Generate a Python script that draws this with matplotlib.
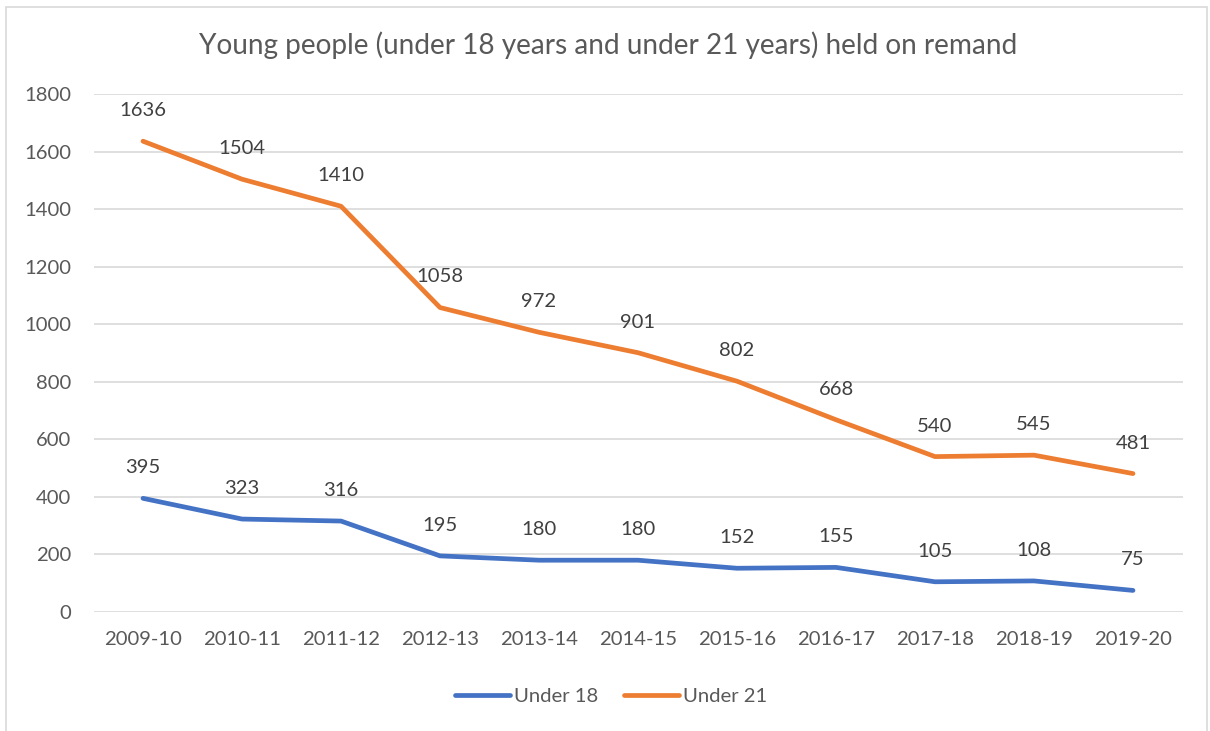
import matplotlib
matplotlib.use("Agg")
import matplotlib.pyplot as plt
from matplotlib.patches import Rectangle
from matplotlib.lines import Line2D

years = ["2009-10", "2010-11", "2011-12", "2012-13", "2013-14", "2014-15",
         "2015-16", "2016-17", "2017-18", "2018-19", "2019-20"]
under18 = [395, 323, 316, 195, 180, 180, 152, 155, 105, 108, 75]
under21 = [1636, 1504, 1410, 1058, 972, 901, 802, 668, 540, 545, 481]
yticks = [0, 200, 400, 600, 800, 1000, 1200, 1400, 1600, 1800]

plt.rcParams['font.family'] = ['Lato', 'DejaVu Sans']
W, H = 1210, 731
fig = plt.figure(figsize=(W / 100, H / 100), dpi=100)
fig.patch.set_facecolor('white')

# outer chart border
fig.add_artist(Rectangle((6 / W, -0.01), (1207 - 6) / W, (H - 7) / H + 0.01,
                         transform=fig.transFigure, fill=False,
                         edgecolor='#d9d9d9', linewidth=1.2))

ax = fig.add_axes([93.5 / W, (H - 612) / H, 1089 / W, (612 - 94) / H])
x = list(range(len(years)))
blue = '#4472c4'
orange = '#ed7d31'
text_c = '#595959'
fs = 14.6

ax.plot(x, under18, color=blue, linewidth=3.4, solid_capstyle='round', solid_joinstyle='round')
ax.plot(x, under21, color=orange, linewidth=3.4, solid_capstyle='round', solid_joinstyle='round')

for xi, v in zip(x, under18):
    ax.annotate(str(v), (xi, v), xytext=(0, 22), textcoords='offset points',
                ha='center', va='center', fontsize=fs, color='#404040')
for xi, v in zip(x, under21):
    ax.annotate(str(v), (xi, v), xytext=(0, 22), textcoords='offset points',
                ha='center', va='center', fontsize=fs, color='#404040')

ax.set_xlim(-0.5, len(years) - 0.5)
ax.set_ylim(0, 1800)
ax.set_yticks(yticks)
ax.set_xticks(x)
ax.set_xticklabels(years)
ax.grid(axis='y', color='#d9d9d9', linewidth=1.2)
ax.set_axisbelow(True)
for s in ax.spines.values():
    s.set_visible(False)
ax.tick_params(axis='both', length=0, labelsize=fs, colors=text_c)
ax.tick_params(axis='y', pad=16)
ax.tick_params(axis='x', pad=14)

fig.text(608 / W, 1 - 45 / H, "Young people (under 18 years and under 21 years) held on remand",
         ha='center', va='center', fontsize=20.2, color=text_c)

handles = [Line2D([0], [0], color=blue, linewidth=3.4, solid_capstyle='round'),
           Line2D([0], [0], color=orange, linewidth=3.4, solid_capstyle='round')]
fig.legend(handles, ["Under 18", "Under 21"], loc='center', bbox_to_anchor=(611 / W, 1 - 696 / H),
           ncol=2, frameon=False, fontsize=fs, labelcolor=text_c,
           handlelength=2.7, handletextpad=0.2, columnspacing=1.3)

fig.savefig("out.png", dpi=100, facecolor='white')
